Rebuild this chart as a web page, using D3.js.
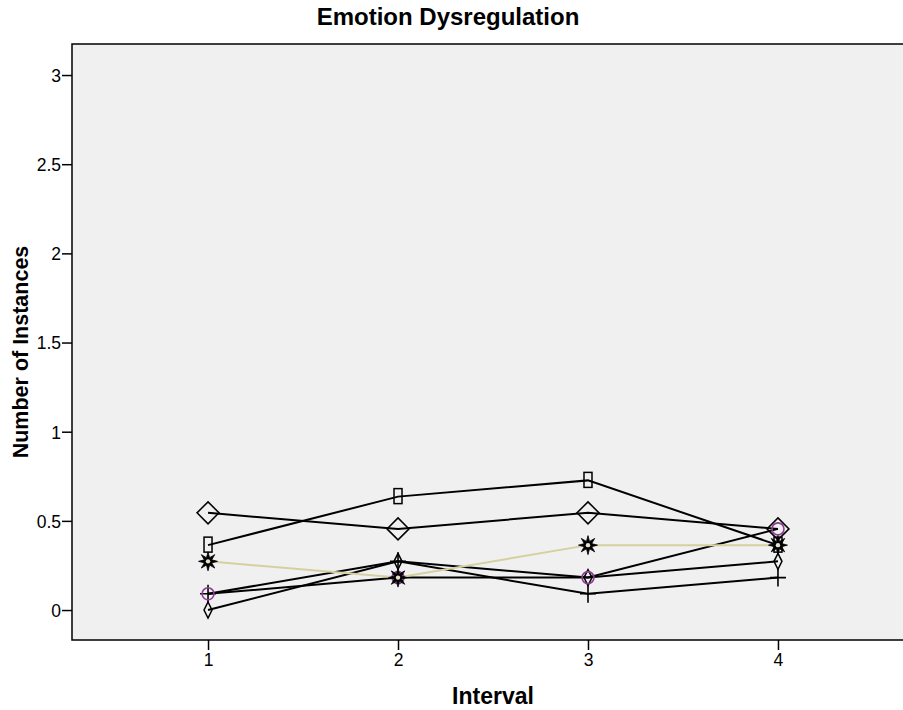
<!DOCTYPE html>
<html>
<head>
<meta charset="utf-8">
<script src="https://cdn.jsdelivr.net/npm/d3@7"></script>
<style>
  body { margin: 0; background: #fff; }
  text { font-family: "Liberation Sans", Arial, sans-serif; }
</style>
</head>
<body>
<div id="chart"></div>
<script>
// data (counts / 11 participants)
const intervals = [1, 2, 3, 4]
const bigDiamond = [0.545, 0.455, 0.545, 0.455]
const rectSeries = [0.364, 0.636, 0.727, 0.364]
const starSeries = [0.273, 0.182, 0.364, 0.364]
const circleSeries = [0.091, 0.182, 0.182, 0.455]
const thinDiamond = [0, 0.273, 0.182, 0.273]
const plusSeries = [0.091, 0.273, 0.091, 0.182]
const yTicks = [0, 0.5, 1, 1.5, 2, 2.5, 3]

const W = 903
const H = 710
const plot = { left: 72, top: 44, bottom: 640, right: 914 }

const x = d3.scaleLinear().domain([0.284, 4.716]).range([plot.left, plot.right])
const y = d3.scaleLinear().domain([-0.168, 3.174]).range([plot.bottom, plot.top])

const svg = d3.select('#chart').append('svg')
  .attr('width', W)
  .attr('height', H)

svg.append('rect')
  .attr('x', plot.left)
  .attr('y', plot.top)
  .attr('width', plot.right - plot.left)
  .attr('height', plot.bottom - plot.top)
  .attr('fill', '#f0f0f0')
  .attr('stroke', '#000')
  .attr('stroke-width', 1.5)

// y axis
const yAxis = svg.append('g')
  .attr('transform', 'translate(' + plot.left + ',0)')
  .call(d3.axisLeft(y).tickValues(yTicks).tickSize(10).tickSizeOuter(0).tickFormat(d3.format('')))
yAxis.select('.domain').remove()
yAxis.selectAll('line').attr('stroke', '#000').attr('stroke-width', 1.5)
yAxis.selectAll('text')
  .style('font-size', '17.5px')
  .style('font-family', '"Liberation Sans", Arial, sans-serif')
  .attr('fill', '#000')
  .attr('x', -11)
  .attr('dy', '0.36em')

// x axis
const xAxis = svg.append('g')
  .attr('transform', 'translate(0,' + plot.bottom + ')')
  .call(d3.axisBottom(x).tickValues(intervals).tickSize(10).tickSizeOuter(0).tickFormat(d3.format('d')))
xAxis.select('.domain').remove()
xAxis.selectAll('line').attr('stroke', '#000').attr('stroke-width', 1.5)
xAxis.selectAll('text')
  .style('font-size', '17.5px')
  .style('font-family', '"Liberation Sans", Arial, sans-serif')
  .attr('fill', '#000')
  .attr('y', 14)

svg.append('text')
  .attr('x', 448)
  .attr('y', 25)
  .attr('text-anchor', 'middle')
  .style('font-size', '24px')
  .attr('font-weight', 'bold')
  .text('Emotion Dysregulation')

svg.append('text')
  .attr('x', 493)
  .attr('y', 704)
  .attr('text-anchor', 'middle')
  .style('font-size', '23px')
  .attr('font-weight', 'bold')
  .text('Interval')

svg.append('text')
  .attr('transform', 'translate(28,352) rotate(-90)')
  .attr('text-anchor', 'middle')
  .style('font-size', '21.5px')
  .attr('font-weight', 'bold')
  .text('Number of Instances')

// marker shapes
const starPath = (() => {
  const pts = []
  for (let i = 0; i < 16; i++) {
    const r = i % 2 === 0 ? 9.5 : 4
    const a = i * Math.PI / 8 - Math.PI / 2
    pts.push([r * Math.cos(a), r * Math.sin(a)])
  }
  return d3.line()(pts) + 'Z'
})()

const series = [
  { values: plusSeries, color: '#000', marker: 'plus' },
  { values: thinDiamond, color: '#000', marker: 'thin' },
  { values: circleSeries, color: '#000', marker: 'circle' },
  { values: starSeries, color: '#d6cfa0', marker: 'star' },
  { values: rectSeries, color: '#000', marker: 'rect' },
  { values: bigDiamond, color: '#000', marker: 'diamond' }
]

const line = d3.line()
  .x((d, i) => x(intervals[i]))
  .y(d => y(d))

series.forEach(s => {
  svg.append('path')
    .datum(s.values)
    .attr('d', line)
    .attr('fill', 'none')
    .attr('stroke', s.color)
    .attr('stroke-width', 2)
})

series.forEach(s => {
  const g = svg.append('g')
  const m = g.selectAll('g').data(s.values).join('g')
    .attr('transform', (d, i) => 'translate(' + x(intervals[i]) + ',' + y(d) + ')')
  if (s.marker === 'plus') {
    m.append('path').attr('d', 'M-8,0H8M0,-9V9').attr('stroke', '#000').attr('stroke-width', 1.6).attr('fill', 'none')
  } else if (s.marker === 'thin') {
    m.append('path').attr('d', 'M0,-8L4,0L0,8L-4,0Z').attr('stroke', '#000').attr('stroke-width', 1.5).attr('fill', 'none')
  } else if (s.marker === 'circle') {
    m.append('circle').attr('r', 6).attr('stroke', '#8e3c94').attr('stroke-width', 1.6).attr('fill', 'none')
  } else if (s.marker === 'star') {
    m.append('path').attr('d', starPath).attr('fill', '#000').attr('stroke', '#000').attr('stroke-width', 0.8)
    m.append('circle').attr('r', 2.2).attr('fill', '#e8e3c8')
  } else if (s.marker === 'rect') {
    m.append('rect').attr('x', -4).attr('y', -8).attr('width', 8).attr('height', 15).attr('stroke', '#000').attr('stroke-width', 1.5).attr('fill', 'none')
  } else if (s.marker === 'diamond') {
    m.append('path').attr('d', 'M0,-11L11,0L0,11L-11,0Z').attr('stroke', '#000').attr('stroke-width', 1.5).attr('fill', 'none')
  }
})
</script>
</body>
</html>
